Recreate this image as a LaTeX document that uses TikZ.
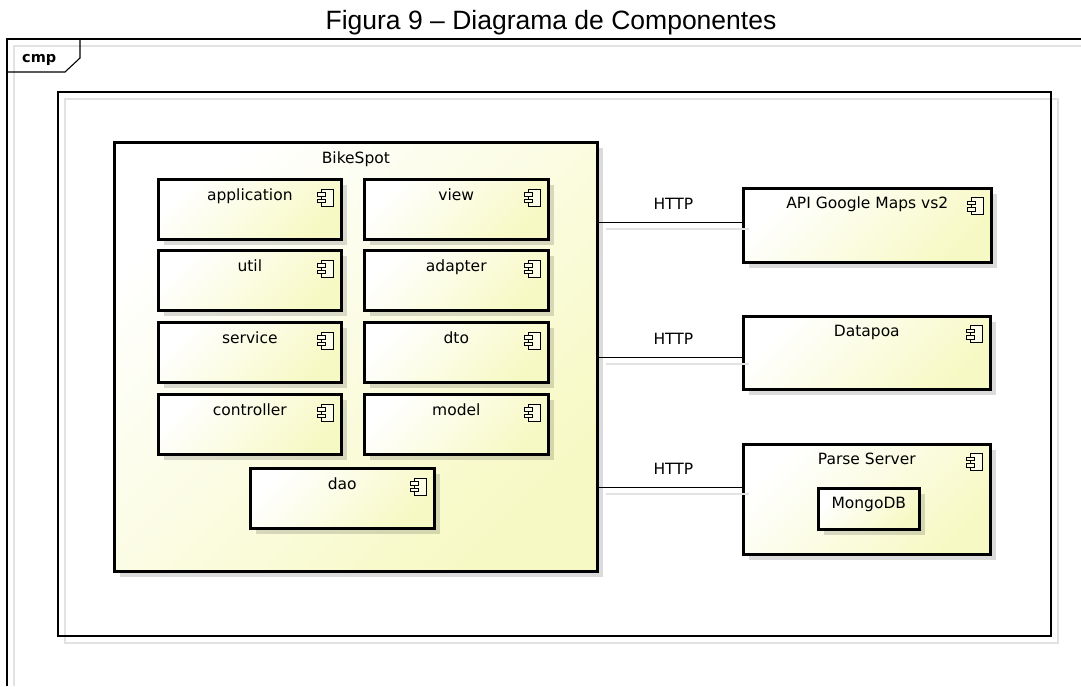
\documentclass[tikz,border=0pt]{standalone}
\usepackage{fontspec}
\setmainfont{DejaVu Sans}
\newfontfamily\titlefont{Liberation Sans}
\usetikzlibrary{shadows,calc}
\definecolor{boxy}{RGB}{247,249,196}
\definecolor{framegray}{RGB}{226,226,226}
\tikzset{
  comp/.style={draw=black, line width=2.6pt, top color=white, bottom color=boxy, shading angle=45,
    inner sep=0pt, anchor=north west,
    drop shadow={shadow xshift=6pt, shadow yshift=-6pt, opacity=0.14, fill=black}},
  lbl/.style={inner sep=0pt, anchor=base, font=\fontsize{15.5}{18}\selectfont},
  conn/.style={draw=black, line width=1pt},
  shline/.style={draw=framegray, line width=1.2pt},
  frameline/.style={draw=black, line width=1.3pt},
  compicon/.pic={
    \draw[line width=0.9pt, fill=white!60!boxy] (-4,-8.5) rectangle (8,8.5);
    \draw[line width=0.9pt, fill=white!60!boxy] (-8,-5) rectangle (0,-1.5);
    \draw[line width=0.9pt, fill=white!60!boxy] (-8,1.5) rectangle (0,5);
  }
}
\begin{document}
\begin{tikzpicture}[x=1pt,y=-1pt]
\useasboundingbox (0,0) rectangle (1081,686);
% title
\node[inner sep=0pt, anchor=base, font=\titlefont\fontsize{26.5}{30}\selectfont] (title) at (551,29) {Figura 9 – Diagrama de Componentes};
% outer frame and its shadow
\draw[shline] (14,686) -- (14,46) -- (1081,46);
\draw[frameline] (7,686) -- (7,39) -- (1081,39);
\draw[frameline, line width=1.1pt] (7,72) -- (65,72) -- (80,58) -- (80,39);
\node[inner sep=0pt, anchor=base west, font=\bfseries\fontsize{14.5}{17}\selectfont] (cmp) at (22,62) {cmp};
% inner frame and its shadow
\draw[shline] (65,99) rectangle (1058,643);
\draw[frameline, line width=1.2pt] (58,92) rectangle (1051,636);
% BikeSpot container
\node[comp, line width=2.8pt, minimum width=483, minimum height=429] (bike) at (113,141) {};
\node[lbl] (bikel) at ($(bike.north)+(0,22)$) {BikeSpot};
% inner components
\foreach \n/\x/\y/\w/\t in {app/157/178/183/application, util/157/249/183/util, serv/157/321/183/service, ctrl/157/393/183/controller,
  view/363/178/184/view, adap/363/249/184/adapter, dto/363/321/184/dto, model/363/393/184/model, dao/249/467/184/dao}{
  \node[comp, minimum width=\w, minimum height=60] (\n) at (\x,\y) {};
  \node[lbl] (\n-l) at ($(\n.north)+(0,22)$) {\t};
  \pic at ($(\n.north east)+(-17,19.5)$) {compicon};
}
% external components
\node[comp, minimum width=248, minimum height=74] (api) at (742,187) {};
\node[lbl] (api-l) at ($(api.north)+(0,21)$) {API Google Maps vs2};
\pic at ($(api.north east)+(-17,19)$) {compicon};
\node[comp, minimum width=247, minimum height=73] (poa) at (742,315) {};
\node[lbl] (poa-l) at ($(poa.north)+(0,21)$) {Datapoa};
\pic at ($(poa.north east)+(-17,19)$) {compicon};
\node[comp, minimum width=247, minimum height=110] (parse) at (742,443) {};
\node[lbl] (parse-l) at ($(parse.north)+(0,21)$) {Parse Server};
\pic at ($(parse.north east)+(-17,19)$) {compicon};
\node[comp, minimum width=101, minimum height=41] (mongo) at (817,487) {};
\node[lbl] (mongo-l) at ($(mongo.north)+(0,21)$) {MongoDB};
% connectors
\coordinate (h1) at (0,222);
\coordinate (h2) at (0,357);
\coordinate (h3) at (0,487);
\foreach \h/\b/\k in {h1/api/1, h2/poa/2, h3/parse/3}{
  \draw[shline] ($(bike.east |- \h)+(7,7)$) -- ($(\b.west |- \h)+(7,7)$);
  \draw[conn] (bike.east |- \h) -- (\b.west |- \h);
  \node[lbl] (http\k) at ($(bike.east |- \h)!0.5!(\b.west |- \h)+(3,-13)$) {HTTP};
}
\end{tikzpicture}
\end{document}
